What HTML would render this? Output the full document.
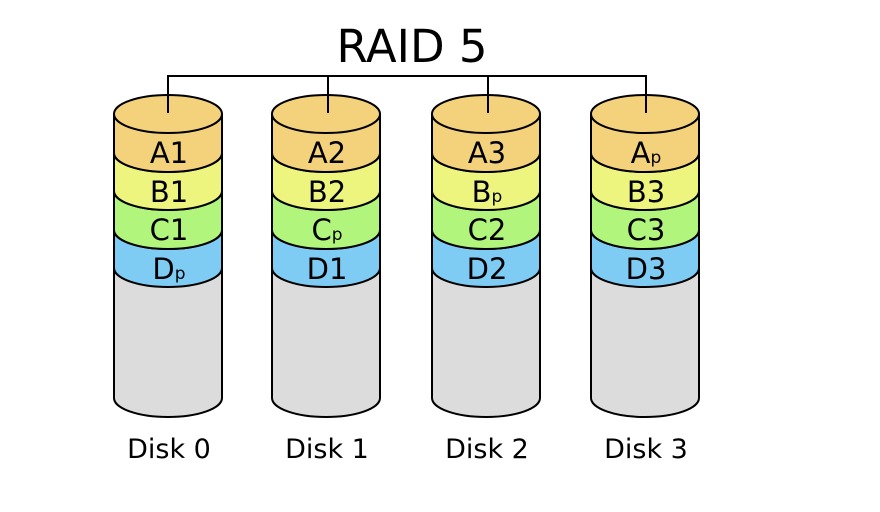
<!DOCTYPE html>
<html><head><meta charset="utf-8"><style>body{margin:0;background:#fff}svg{display:block}</style></head><body>
<svg width="880" height="512" viewBox="0 0 880 512" xmlns="http://www.w3.org/2000/svg" font-family="DejaVu Sans, sans-serif">
<defs>
<g id="cyl" stroke="#000" stroke-width="2">
<path d="M-54,114 V398 A54 19 0 0 0 54,398 V114 Z" fill="#dcdcdc"/>
<path d="M-54,230 V268 A54 19 0 0 0 54,268 V230 A54 19 0 0 1 -54,230 Z" fill="#7ecbf4"/>
<path d="M-54,191 V230 A54 19 0 0 0 54,230 V191 A54 19 0 0 1 -54,191 Z" fill="#b2f57d"/>
<path d="M-54,153 V191 A54 19 0 0 0 54,191 V153 A54 19 0 0 1 -54,153 Z" fill="#eef57f"/>
<path d="M-54,114 V153 A54 19 0 0 0 54,153 V114 Z" fill="#f4d27c"/>
<ellipse cx="0" cy="114" rx="54" ry="19" fill="#f4d27c"/>
</g>
</defs>
<text x="412" y="62" font-size="45" text-anchor="middle">RAID 5</text>
<use href="#cyl" x="168"/>
<use href="#cyl" x="326"/>
<use href="#cyl" x="486"/>
<use href="#cyl" x="645"/>
<path d="M168,113 V76 H646 V113 M328,76 V113 M488,76 V113" fill="none" stroke="#000" stroke-width="2"/>
<g font-size="29" text-anchor="middle">
<text x="169" y="163">A1</text><text x="169" y="202">B1</text><text x="169" y="240">C1</text><text x="169" y="279">D<tspan font-size="17">p</tspan></text>
<text x="327" y="163">A2</text><text x="327" y="202">B2</text><text x="327" y="240">C<tspan font-size="17">p</tspan></text><text x="327" y="279">D1</text>
<text x="487" y="163">A3</text><text x="487" y="202">B<tspan font-size="17">p</tspan></text><text x="487" y="240">C2</text><text x="487" y="279">D2</text>
<text x="646" y="163">A<tspan font-size="17">p</tspan></text><text x="646" y="202">B3</text><text x="646" y="240">C3</text><text x="646" y="279">D3</text>
</g>
<g font-size="27" text-anchor="middle">
<text x="169" y="458">Disk 0</text><text x="327" y="458">Disk 1</text><text x="487" y="458">Disk 2</text><text x="646" y="458">Disk 3</text>
</g>
</svg>
</body></html>
